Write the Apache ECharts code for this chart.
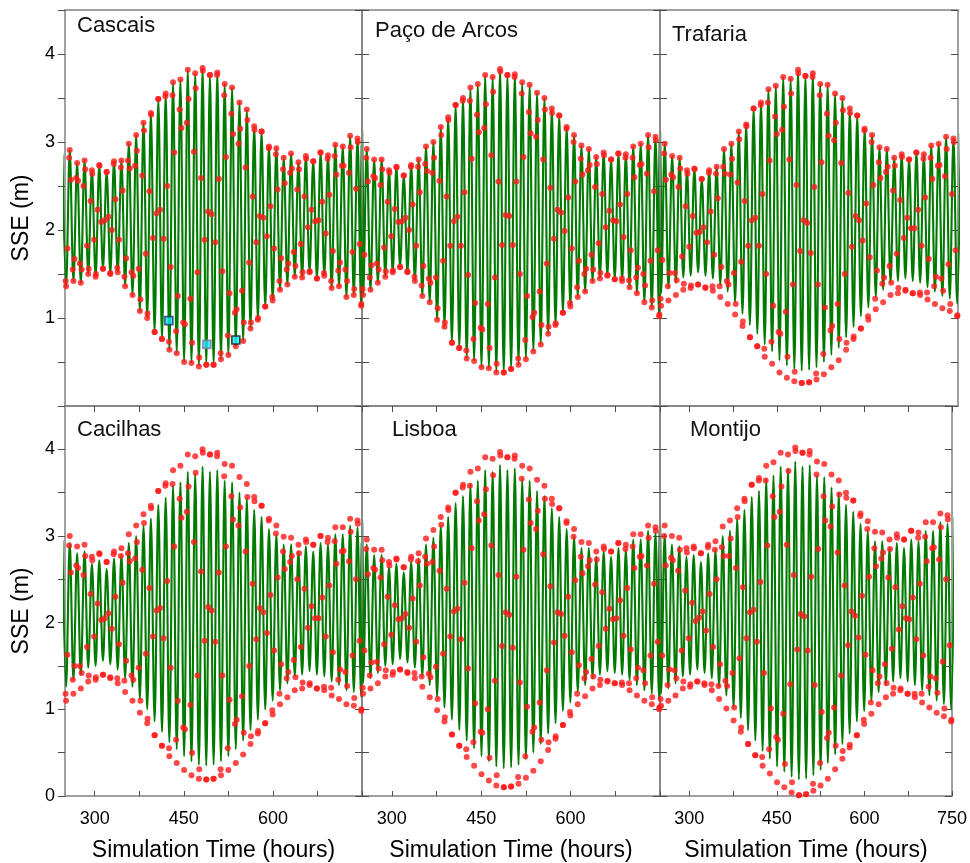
<!DOCTYPE html>
<html>
<head>
<meta charset="utf-8">
<script src="https://cdn.jsdelivr.net/npm/echarts@6/dist/echarts.min.js"></script>
<style>
  html, body { margin: 0; padding: 0; background: #ffffff; }
  #chart { width: 970px; height: 863px; }
</style>
</head>
<body>
<div id="chart"></div>
<script>
// ---- Simulation time of high / low waters (hours) ----
const highWaterHours = [245.6, 258.0, 270.4, 282.9, 295.3, 307.7, 320.1, 332.5, 345.0, 357.4,
  369.8, 382.2, 394.6, 407.1, 419.5, 431.9, 444.3, 456.7, 469.2, 481.6,
  494.0, 506.4, 518.8, 531.3, 543.7, 556.1, 568.5, 580.9, 593.4, 605.8,
  618.2, 630.6, 643.0, 655.5, 667.9, 680.3, 692.7, 705.1, 717.6, 730.0,
  742.4, 754.8];
const lowWaterHours = [251.8, 264.2, 276.6, 289.1, 301.5, 313.9, 326.3, 338.7, 351.2, 363.6,
  376.0, 388.4, 400.8, 413.3, 425.7, 438.1, 450.5, 462.9, 475.4, 487.8,
  500.2, 512.6, 525.0, 537.5, 549.9, 562.3, 574.7, 587.1, 599.6, 612.0,
  624.4, 636.8, 649.2, 661.7, 674.1, 686.5, 698.9, 711.3, 723.8, 736.2,
  748.6];

// ---- Regular observation times (hours) ----
const obsHours = [251, 254, 257, 260, 263, 266, 269, 272, 275, 278,
  281, 284, 287, 290, 293, 296, 299, 302, 305, 308,
  311, 314, 317, 320, 323, 326, 329, 332, 335, 338,
  341, 344, 347, 350, 353, 356, 359, 362, 365, 368,
  371, 374, 377, 380, 383, 386, 389, 392, 395, 398,
  401, 404, 407, 410, 413, 416, 419, 422, 425, 428,
  431, 434, 437, 440, 443, 446, 449, 452, 455, 458,
  461, 464, 467, 470, 473, 476, 479, 482, 485, 488,
  491, 494, 497, 500, 503, 506, 509, 512, 515, 518,
  521, 524, 527, 530, 533, 536, 539, 542, 545, 548,
  551, 554, 557, 560, 563, 566, 569, 572, 575, 578,
  581, 584, 587, 590, 593, 596, 599, 602, 605, 608,
  611, 614, 617, 620, 623, 626, 629, 632, 635, 638,
  641, 644, 647, 650, 653, 656, 659, 662, 665, 668,
  671, 674, 677, 680, 683, 686, 689, 692, 695, 698,
  701, 704, 707, 710, 713, 716, 719, 722, 725, 728,
  731, 734, 737, 740, 743, 746, 749];

// ======================= Cascais =======================
const cascaisModelHigh = [2.86, 2.91, 2.76, 2.79, 2.68, 2.74, 2.66, 2.78, 2.79, 2.98,
  3.08, 3.22, 3.33, 3.49, 3.55, 3.68, 3.71, 3.82, 3.78, 3.84,
  3.76, 3.79, 3.66, 3.62, 3.45, 3.37, 3.18, 3.12, 2.95, 2.93,
  2.82, 2.87, 2.77, 2.84, 2.78, 2.88, 2.85, 2.97, 2.95, 3.07,
  3.04, 3.14];
const cascaisModelLow = [1.36, 1.42, 1.40, 1.50, 1.47, 1.56, 1.50, 1.52, 1.36, 1.26,
  1.08, 1.00, 0.84, 0.76, 0.64, 0.60, 0.50, 0.49, 0.45, 0.47,
  0.47, 0.53, 0.58, 0.68, 0.74, 0.88, 0.98, 1.13, 1.20, 1.32,
  1.38, 1.47, 1.46, 1.52, 1.45, 1.48, 1.34, 1.36, 1.24, 1.26,
  1.14];
const cascaisObsHigh = [2.86, 2.91, 2.76, 2.79, 2.68, 2.74, 2.66, 2.78, 2.79, 2.98,
  3.08, 3.22, 3.33, 3.49, 3.55, 3.68, 3.71, 3.82, 3.78, 3.84,
  3.76, 3.79, 3.66, 3.62, 3.45, 3.37, 3.18, 3.12, 2.95, 2.93,
  2.82, 2.87, 2.77, 2.84, 2.78, 2.88, 2.85, 2.97, 2.95, 3.07,
  3.04, 3.14];
const cascaisObsLow = [1.36, 1.42, 1.40, 1.50, 1.47, 1.56, 1.50, 1.52, 1.36, 1.26,
  1.08, 1.00, 0.84, 0.76, 0.64, 0.60, 0.50, 0.49, 0.45, 0.47,
  0.47, 0.53, 0.58, 0.68, 0.74, 0.88, 0.98, 1.13, 1.20, 1.32,
  1.38, 1.47, 1.46, 1.52, 1.45, 1.48, 1.34, 1.36, 1.24, 1.26,
  1.14];
const cascaisObs = [1.42, 1.79, 2.82, 2.57, 1.55, 1.67, 2.59, 2.56, 1.62, 1.55,
  2.50, 2.69, 1.82, 1.56, 2.33, 2.64, 1.89, 1.50, 2.23, 2.73,
  2.09, 1.56, 2.11, 2.66, 2.15, 1.51, 2.00, 2.75, 2.35, 1.57,
  1.89, 2.71, 2.45, 1.47, 1.68, 2.79, 2.70, 1.52, 1.48, 2.73,
  2.90, 1.56, 1.21, 2.62, 3.13, 1.73, 1.05, 2.44, 3.31, 1.91,
  0.84, 2.19, 3.49, 2.23, 0.76, 1.90, 3.52, 2.50, 0.73, 1.58,
  3.53, 2.88, 0.85, 1.25, 3.37, 3.16, 0.95, 0.93, 3.22, 3.49,
  1.22, 0.72, 2.89, 3.61, 1.52, 0.55, 2.59, 3.81, 1.89, 0.47,
  2.21, 3.76, 2.18, 0.47, 1.86, 3.76, 2.58, 0.60, 1.53, 3.53,
  2.83, 0.80, 1.28, 3.32, 3.09, 1.06, 1.10, 2.98, 3.15, 1.31,
  0.95, 2.71, 3.25, 1.63, 0.95, 2.38, 3.14, 1.86, 1.00, 2.16,
  3.12, 2.14, 1.13, 1.93, 2.93, 2.27, 1.24, 1.79, 2.86, 2.46,
  1.42, 1.68, 2.69, 2.53, 1.55, 1.62, 2.65, 2.70, 1.75, 1.59,
  2.46, 2.69, 1.84, 1.52, 2.38, 2.81, 2.03, 1.53, 2.23, 2.78,
  2.10, 1.45, 2.11, 2.88, 2.32, 1.51, 1.96, 2.81, 2.40, 1.42,
  1.76, 2.84, 2.63, 1.54, 1.63, 2.73, 2.73, 1.55, 1.42, 2.65,
  2.94, 1.75, 1.33, 2.47, 3.00, 1.84, 1.16];
// highlighted Cascais observations
const cascaisMarkerHours = [424.9, 488.8, 537.6];
const cascaisMarkerLevels = [0.97, 0.70, 0.75];

// ======================= Paço de Arcos =======================
const pacoModelHigh = [2.97, 2.92, 2.80, 2.80, 2.68, 2.72, 2.62, 2.74, 2.80, 2.95,
  3.00, 3.17, 3.28, 3.42, 3.50, 3.62, 3.66, 3.76, 3.74, 3.83,
  3.76, 3.77, 3.68, 3.65, 3.56, 3.50, 3.38, 3.30, 3.17, 3.08,
  2.96, 2.92, 2.83, 2.88, 2.80, 2.87, 2.86, 2.95, 2.98, 3.08,
  3.06, 3.12];
const pacoModelLow = [1.26, 1.32, 1.40, 1.47, 1.52, 1.58, 1.52, 1.42, 1.25, 1.18,
  0.98, 0.90, 0.72, 0.66, 0.54, 0.51, 0.44, 0.43, 0.38, 0.38,
  0.42, 0.47, 0.53, 0.62, 0.70, 0.82, 0.92, 1.06, 1.13, 1.24,
  1.30, 1.42, 1.45, 1.48, 1.44, 1.42, 1.35, 1.28, 1.18, 1.12,
  1.02];
const pacoObsHigh = [2.97, 2.92, 2.80, 2.80, 2.68, 2.72, 2.62, 2.74, 2.80, 2.95,
  3.00, 3.17, 3.28, 3.42, 3.50, 3.62, 3.66, 3.76, 3.74, 3.83,
  3.76, 3.77, 3.68, 3.65, 3.56, 3.50, 3.38, 3.30, 3.17, 3.08,
  2.96, 2.92, 2.83, 2.88, 2.80, 2.87, 2.86, 2.95, 2.98, 3.08,
  3.06, 3.12];
const pacoObsLow = [1.26, 1.32, 1.40, 1.47, 1.52, 1.58, 1.52, 1.42, 1.25, 1.18,
  0.98, 0.90, 0.72, 0.66, 0.54, 0.51, 0.44, 0.43, 0.38, 0.38,
  0.42, 0.47, 0.53, 0.62, 0.70, 0.82, 0.92, 1.06, 1.13, 1.24,
  1.30, 1.42, 1.45, 1.48, 1.44, 1.42, 1.35, 1.28, 1.18, 1.12,
  1.02];
const pacoObs = [1.33, 1.72, 2.82, 2.55, 1.46, 1.60, 2.61, 2.59, 1.62, 1.55,
  2.51, 2.69, 1.80, 1.53, 2.32, 2.65, 1.93, 1.54, 2.24, 2.71,
  2.09, 1.58, 2.10, 2.62, 2.14, 1.53, 2.00, 2.72, 2.29, 1.47,
  1.82, 2.72, 2.43, 1.37, 1.59, 2.75, 2.67, 1.45, 1.40, 2.65,
  2.82, 1.46, 1.11, 2.56, 3.08, 1.65, 0.95, 2.38, 3.25, 1.82,
  0.72, 2.10, 3.42, 2.15, 0.66, 1.82, 3.47, 2.43, 0.63, 1.49,
  3.47, 2.81, 0.76, 1.17, 3.31, 3.11, 0.89, 0.87, 3.16, 3.43,
  1.16, 0.66, 2.85, 3.57, 1.46, 0.48, 2.55, 3.80, 1.83, 0.38,
  2.17, 3.76, 2.16, 0.42, 1.83, 3.74, 2.55, 0.54, 1.50, 3.55,
  2.83, 0.75, 1.25, 3.34, 3.10, 1.01, 1.06, 3.06, 3.25, 1.30,
  0.92, 2.80, 3.37, 1.62, 0.90, 2.48, 3.33, 1.90, 0.94, 2.23,
  3.30, 2.20, 1.06, 1.99, 3.15, 2.37, 1.17, 1.79, 3.00, 2.55,
  1.35, 1.65, 2.81, 2.63, 1.50, 1.56, 2.68, 2.74, 1.72, 1.55,
  2.49, 2.75, 1.85, 1.51, 2.41, 2.85, 2.03, 1.49, 2.22, 2.80,
  2.11, 1.44, 2.10, 2.87, 2.29, 1.45, 1.92, 2.82, 2.41, 1.43,
  1.77, 2.82, 2.60, 1.46, 1.57, 2.74, 2.75, 1.50, 1.37, 2.64,
  2.94, 1.65, 1.20, 2.44, 3.02, 1.77, 1.04];

// ======================= Trafaria =======================
const trafariaModelHigh = [3.02, 2.98, 2.84, 2.82, 2.68, 2.70, 2.58, 2.68, 2.72, 2.92,
  2.98, 3.12, 3.20, 3.38, 3.45, 3.60, 3.64, 3.74, 3.72, 3.82,
  3.75, 3.78, 3.66, 3.65, 3.55, 3.50, 3.38, 3.30, 3.15, 3.08,
  2.94, 2.92, 2.82, 2.86, 2.80, 2.88, 2.86, 2.96, 2.98, 3.06,
  3.04, 3.10];
const trafariaModelLow = [1.28, 1.34, 1.40, 1.46, 1.48, 1.52, 1.48, 1.45, 1.38, 1.30,
  1.18, 1.05, 0.92, 0.82, 0.70, 0.62, 0.52, 0.46, 0.42, 0.40,
  0.41, 0.44, 0.50, 0.58, 0.66, 0.78, 0.90, 1.02, 1.12, 1.24,
  1.32, 1.40, 1.42, 1.45, 1.42, 1.40, 1.35, 1.30, 1.25, 1.22,
  1.16];
const trafariaObsHigh = [3.02, 2.98, 2.84, 2.82, 2.68, 2.70, 2.58, 2.68, 2.72, 2.92,
  2.98, 3.12, 3.20, 3.38, 3.45, 3.60, 3.64, 3.74, 3.72, 3.82,
  3.75, 3.78, 3.66, 3.65, 3.55, 3.50, 3.38, 3.30, 3.15, 3.08,
  2.94, 2.92, 2.82, 2.86, 2.80, 2.88, 2.86, 2.96, 2.98, 3.06,
  3.04, 3.10];
const trafariaObsLow = [1.14, 1.20, 1.26, 1.32, 1.34, 1.38, 1.34, 1.31, 1.24, 1.16,
  1.04, 0.91, 0.78, 0.68, 0.56, 0.48, 0.38, 0.32, 0.28, 0.26,
  0.27, 0.30, 0.36, 0.44, 0.52, 0.64, 0.76, 0.88, 0.98, 1.10,
  1.18, 1.26, 1.28, 1.31, 1.28, 1.26, 1.21, 1.16, 1.11, 1.08,
  1.02];
const trafariaObs = [1.22, 1.66, 2.87, 2.57, 1.36, 1.51, 2.63, 2.60, 1.51, 1.43,
  2.49, 2.70, 1.70, 1.39, 2.27, 2.64, 1.81, 1.37, 2.16, 2.69,
  1.97, 1.38, 1.98, 2.58, 2.03, 1.35, 1.86, 2.65, 2.21, 1.36,
  1.72, 2.64, 2.36, 1.36, 1.58, 2.72, 2.64, 1.42, 1.38, 2.63,
  2.81, 1.51, 1.16, 2.54, 3.03, 1.64, 0.96, 2.33, 3.18, 1.82,
  0.78, 2.11, 3.38, 2.14, 0.68, 1.82, 3.42, 2.41, 0.65, 1.50,
  3.45, 2.79, 0.73, 1.14, 3.29, 3.09, 0.84, 0.82, 3.14, 3.40,
  1.07, 0.56, 2.80, 3.55, 1.38, 0.39, 2.51, 3.78, 1.76, 0.26,
  2.11, 3.75, 2.08, 0.27, 1.74, 3.74, 2.49, 0.37, 1.38, 3.53,
  2.77, 0.59, 1.12, 3.32, 3.07, 0.86, 0.91, 3.02, 3.22, 1.16,
  0.76, 2.76, 3.36, 1.50, 0.72, 2.42, 3.33, 1.81, 0.79, 2.16,
  3.30, 2.11, 0.88, 1.88, 3.13, 2.30, 1.02, 1.69, 3.00, 2.51,
  1.22, 1.54, 2.77, 2.59, 1.39, 1.46, 2.66, 2.72, 1.59, 1.40,
  2.45, 2.73, 1.73, 1.34, 2.34, 2.83, 1.91, 1.32, 2.14, 2.80,
  2.02, 1.28, 2.02, 2.88, 2.23, 1.29, 1.82, 2.81, 2.37, 1.29,
  1.67, 2.82, 2.58, 1.36, 1.47, 2.73, 2.74, 1.45, 1.31, 2.61,
  2.92, 1.61, 1.16, 2.41, 3.00, 1.77, 1.03];

// ======================= Cacilhas =======================
const cacilhasModelHigh = [2.95, 2.92, 2.80, 2.82, 2.68, 2.72, 2.62, 2.74, 2.78, 2.92,
  3.00, 3.12, 3.20, 3.36, 3.44, 3.58, 3.62, 3.74, 3.72, 3.80,
  3.74, 3.76, 3.64, 3.62, 3.50, 3.44, 3.30, 3.22, 3.08, 3.02,
  2.90, 2.90, 2.82, 2.88, 2.82, 2.92, 2.90, 3.02, 3.02, 3.12,
  3.10, 3.18];
const cacilhasModelLow = [1.26, 1.34, 1.40, 1.48, 1.50, 1.56, 1.52, 1.46, 1.36, 1.26,
  1.12, 1.00, 0.86, 0.74, 0.62, 0.54, 0.46, 0.40, 0.36, 0.35,
  0.36, 0.40, 0.46, 0.54, 0.64, 0.76, 0.88, 1.00, 1.10, 1.22,
  1.30, 1.38, 1.40, 1.44, 1.40, 1.38, 1.32, 1.28, 1.22, 1.20,
  1.14];
const cacilhasObsHigh = [3.03, 3.00, 2.88, 2.90, 2.76, 2.80, 2.70, 2.82, 2.86, 3.02,
  3.12, 3.25, 3.35, 3.52, 3.61, 3.76, 3.81, 3.94, 3.92, 4.00,
  3.94, 3.96, 3.83, 3.81, 3.68, 3.60, 3.45, 3.35, 3.20, 3.12,
  2.99, 2.98, 2.90, 2.96, 2.90, 3.00, 2.98, 3.10, 3.10, 3.20,
  3.18, 3.26];
const cacilhasObsLow = [1.10, 1.18, 1.24, 1.32, 1.34, 1.40, 1.36, 1.30, 1.20, 1.10,
  0.96, 0.84, 0.70, 0.58, 0.46, 0.38, 0.30, 0.24, 0.20, 0.19,
  0.20, 0.24, 0.30, 0.38, 0.48, 0.60, 0.72, 0.84, 0.94, 1.06,
  1.14, 1.22, 1.24, 1.28, 1.24, 1.22, 1.16, 1.12, 1.06, 1.04,
  0.98];
const cacilhasObs = [1.18, 1.63, 2.89, 2.58, 1.34, 1.50, 2.66, 2.63, 1.50, 1.42,
  2.55, 2.77, 1.72, 1.39, 2.33, 2.72, 1.84, 1.37, 2.22, 2.79,
  2.03, 1.40, 2.05, 2.70, 2.11, 1.37, 1.93, 2.79, 2.30, 1.36,
  1.75, 2.77, 2.46, 1.33, 1.56, 2.80, 2.71, 1.39, 1.34, 2.74,
  2.93, 1.48, 1.10, 2.61, 3.15, 1.64, 0.89, 2.40, 3.32, 1.84,
  0.70, 2.14, 3.52, 2.17, 0.58, 1.82, 3.58, 2.48, 0.55, 1.48,
  3.60, 2.88, 0.65, 1.10, 3.43, 3.21, 0.79, 0.77, 3.28, 3.57,
  1.05, 0.50, 2.93, 3.73, 1.39, 0.31, 2.59, 3.96, 1.79, 0.19,
  2.18, 3.94, 2.14, 0.20, 1.78, 3.92, 2.58, 0.31, 1.39, 3.69,
  2.88, 0.55, 1.11, 3.46, 3.19, 0.83, 0.88, 3.12, 3.33, 1.15,
  0.73, 2.82, 3.45, 1.50, 0.69, 2.45, 3.40, 1.81, 0.75, 2.17,
  3.35, 2.12, 0.84, 1.88, 3.18, 2.32, 0.99, 1.68, 3.03, 2.52,
  1.18, 1.52, 2.82, 2.62, 1.36, 1.43, 2.70, 2.77, 1.57, 1.37,
  2.50, 2.80, 1.72, 1.31, 2.39, 2.93, 1.94, 1.30, 2.19, 2.90,
  2.05, 1.24, 2.05, 3.00, 2.29, 1.26, 1.84, 2.93, 2.43, 1.25,
  1.66, 2.94, 2.68, 1.34, 1.46, 2.82, 2.83, 1.43, 1.27, 2.71,
  3.05, 1.62, 1.13, 2.50, 3.14, 1.79, 1.00];

// ======================= Lisboa =======================
const lisboaModelHigh = [2.92, 2.90, 2.78, 2.78, 2.64, 2.68, 2.58, 2.70, 2.74, 2.90,
  2.98, 3.12, 3.22, 3.38, 3.46, 3.60, 3.64, 3.76, 3.74, 3.82,
  3.76, 3.78, 3.66, 3.64, 3.52, 3.46, 3.32, 3.22, 3.08, 3.00,
  2.86, 2.86, 2.76, 2.82, 2.76, 2.86, 2.84, 2.96, 2.96, 3.06,
  3.04, 3.12];
const lisboaModelLow = [1.30, 1.36, 1.42, 1.50, 1.52, 1.58, 1.54, 1.48, 1.38, 1.28,
  1.14, 1.02, 0.88, 0.76, 0.64, 0.55, 0.46, 0.40, 0.34, 0.32,
  0.33, 0.36, 0.42, 0.50, 0.60, 0.72, 0.84, 0.98, 1.08, 1.20,
  1.28, 1.36, 1.40, 1.44, 1.42, 1.40, 1.34, 1.28, 1.22, 1.18,
  1.12];
const lisboaObsHigh = [2.98, 2.96, 2.84, 2.84, 2.70, 2.74, 2.64, 2.76, 2.80, 2.97,
  3.07, 3.22, 3.33, 3.50, 3.59, 3.74, 3.78, 3.91, 3.89, 3.97,
  3.91, 3.93, 3.81, 3.78, 3.65, 3.58, 3.43, 3.32, 3.17, 3.08,
  2.93, 2.92, 2.82, 2.88, 2.82, 2.92, 2.90, 3.02, 3.02, 3.12,
  3.10, 3.18];
const lisboaObsLow = [1.18, 1.24, 1.30, 1.38, 1.40, 1.46, 1.42, 1.36, 1.26, 1.14,
  0.99, 0.86, 0.71, 0.58, 0.45, 0.35, 0.25, 0.18, 0.12, 0.10,
  0.11, 0.14, 0.21, 0.29, 0.40, 0.53, 0.66, 0.82, 0.93, 1.06,
  1.15, 1.24, 1.28, 1.32, 1.30, 1.28, 1.22, 1.16, 1.10, 1.06,
  1.00];
const lisboaObs = [1.25, 1.68, 2.85, 2.56, 1.39, 1.54, 2.63, 2.61, 1.55, 1.47,
  2.52, 2.72, 1.75, 1.45, 2.30, 2.66, 1.86, 1.43, 2.20, 2.73,
  2.04, 1.46, 2.05, 2.64, 2.10, 1.43, 1.94, 2.73, 2.28, 1.42,
  1.78, 2.71, 2.43, 1.38, 1.60, 2.76, 2.68, 1.41, 1.37, 2.70,
  2.88, 1.49, 1.12, 2.60, 3.13, 1.64, 0.91, 2.39, 3.30, 1.84,
  0.71, 2.13, 3.50, 2.16, 0.58, 1.81, 3.56, 2.46, 0.54, 1.47,
  3.58, 2.86, 0.62, 1.07, 3.40, 3.18, 0.74, 0.73, 3.25, 3.54,
  1.00, 0.44, 2.89, 3.70, 1.33, 0.24, 2.55, 3.93, 1.73, 0.10,
  2.12, 3.91, 2.09, 0.11, 1.71, 3.89, 2.53, 0.22, 1.31, 3.66,
  2.84, 0.46, 1.03, 3.42, 3.15, 0.74, 0.79, 3.08, 3.29, 1.08,
  0.65, 2.79, 3.43, 1.45, 0.62, 2.42, 3.37, 1.77, 0.69, 2.12,
  3.32, 2.10, 0.82, 1.85, 3.15, 2.30, 0.97, 1.66, 2.99, 2.49,
  1.18, 1.51, 2.76, 2.57, 1.36, 1.43, 2.65, 2.72, 1.58, 1.38,
  2.44, 2.73, 1.73, 1.34, 2.35, 2.85, 1.93, 1.33, 2.16, 2.82,
  2.04, 1.30, 2.05, 2.92, 2.26, 1.31, 1.85, 2.85, 2.40, 1.30,
  1.69, 2.88, 2.63, 1.36, 1.48, 2.76, 2.77, 1.45, 1.30, 2.66,
  2.98, 1.62, 1.14, 2.45, 3.06, 1.78, 1.02];

// ======================= Montijo =======================
const montijoModelHigh = [3.06, 3.02, 2.90, 2.88, 2.76, 2.78, 2.70, 2.80, 2.84, 3.00,
  3.06, 3.20, 3.30, 3.45, 3.52, 3.66, 3.70, 3.80, 3.78, 3.86,
  3.80, 3.82, 3.70, 3.68, 3.56, 3.50, 3.36, 3.28, 3.14, 3.06,
  2.94, 2.94, 2.86, 2.92, 2.86, 2.96, 2.94, 3.06, 3.06, 3.16,
  3.14, 3.22];
const montijoModelLow = [1.18, 1.24, 1.30, 1.38, 1.40, 1.46, 1.42, 1.36, 1.26, 1.16,
  1.02, 0.90, 0.76, 0.64, 0.52, 0.43, 0.34, 0.28, 0.22, 0.19,
  0.20, 0.24, 0.30, 0.38, 0.48, 0.60, 0.72, 0.86, 0.98, 1.10,
  1.20, 1.28, 1.32, 1.36, 1.32, 1.28, 1.22, 1.16, 1.10, 1.06,
  1.00];
const montijoObsHigh = [3.16, 3.12, 3.00, 2.98, 2.86, 2.88, 2.80, 2.90, 2.94, 3.11,
  3.18, 3.32, 3.43, 3.59, 3.67, 3.81, 3.85, 3.96, 3.94, 4.02,
  3.96, 3.98, 3.86, 3.83, 3.71, 3.64, 3.50, 3.41, 3.26, 3.17,
  3.05, 3.04, 2.96, 3.02, 2.96, 3.06, 3.04, 3.16, 3.16, 3.26,
  3.24, 3.32];
const montijoObsLow = [1.04, 1.10, 1.16, 1.24, 1.26, 1.32, 1.28, 1.22, 1.12, 1.01,
  0.87, 0.74, 0.60, 0.47, 0.35, 0.26, 0.16, 0.10, 0.04, 0.01,
  0.02, 0.06, 0.12, 0.20, 0.31, 0.43, 0.56, 0.70, 0.83, 0.95,
  1.06, 1.14, 1.18, 1.22, 1.18, 1.14, 1.08, 1.02, 0.96, 0.92,
  0.86];
const montijoObs = [1.12, 1.62, 3.00, 2.66, 1.28, 1.46, 2.75, 2.72, 1.45, 1.36,
  2.60, 2.84, 1.68, 1.32, 2.37, 2.81, 1.82, 1.29, 2.23, 2.86,
  2.02, 1.32, 2.06, 2.80, 2.13, 1.30, 1.91, 2.87, 2.33, 1.29,
  1.72, 2.84, 2.50, 1.27, 1.52, 2.87, 2.77, 1.33, 1.27, 2.77,
  2.97, 1.42, 1.02, 2.63, 3.22, 1.59, 0.79, 2.41, 3.40, 1.82,
  0.60, 2.12, 3.59, 2.15, 0.47, 1.78, 3.64, 2.47, 0.45, 1.42,
  3.64, 2.89, 0.54, 1.01, 3.46, 3.22, 0.68, 0.65, 3.28, 3.57,
  0.95, 0.37, 2.90, 3.75, 1.29, 0.16, 2.55, 3.98, 1.69, 0.01,
  2.10, 3.96, 2.07, 0.02, 1.68, 3.94, 2.53, 0.14, 1.28, 3.71,
  2.85, 0.38, 0.97, 3.46, 3.18, 0.67, 0.73, 3.11, 3.34, 1.02,
  0.58, 2.81, 3.48, 1.39, 0.52, 2.43, 3.44, 1.74, 0.59, 2.13,
  3.41, 2.08, 0.70, 1.83, 3.23, 2.31, 0.88, 1.63, 3.08, 2.53,
  1.08, 1.45, 2.86, 2.65, 1.30, 1.38, 2.74, 2.81, 1.52, 1.30,
  2.52, 2.85, 1.70, 1.25, 2.41, 2.98, 1.92, 1.24, 2.19, 2.96,
  2.05, 1.18, 2.04, 3.06, 2.29, 1.18, 1.81, 2.98, 2.45, 1.18,
  1.62, 2.99, 2.71, 1.26, 1.38, 2.86, 2.87, 1.36, 1.19, 2.73,
  3.10, 1.55, 1.01, 2.50, 3.19, 1.74, 0.88];

// ---- Axis ticks ----
const timeTicks = [300, 375, 450, 525, 600, 675, 750];
const timeLabelsInner = [300, 450, 600];
const timeLabelsLast = [300, 450, 600, 750];
const levelMin = 0, levelMax = 4.5, levelStep = 0.5;

// Station panels, row by row
const stationNames = ['Cascais', 'Paço de Arcos', 'Trafaria', 'Cacilhas', 'Lisboa', 'Montijo'];
const stationHigh = [cascaisModelHigh, pacoModelHigh, trafariaModelHigh, cacilhasModelHigh, lisboaModelHigh, montijoModelHigh];
const stationLow = [cascaisModelLow, pacoModelLow, trafariaModelLow, cacilhasModelLow, lisboaModelLow, montijoModelLow];
const stationObs = [cascaisObs, pacoObs, trafariaObs, cacilhasObs, lisboaObs, montijoObs];
const stationObsHigh = [cascaisObsHigh, pacoObsHigh, trafariaObsHigh, cacilhasObsHigh, lisboaObsHigh, montijoObsHigh];
const stationObsLow = [cascaisObsLow, pacoObsLow, trafariaObsLow, cacilhasObsLow, lisboaObsLow, montijoObsLow];

// ---- Layout ----
const FONT = '"Liberation Sans", Arial, Helvetica, sans-serif';
const colLeft = [65, 362, 660];
const colWidth = [297, 298, 298];
const rowTop = [10, 406];
const rowHeight = 396;
const titleAt = [[77, 15], [375, 20], [672, 24], [77, 419], [392, 419], [690, 419]];
const frameColor = '#808080';
const tickColor = '#4d4d4d';

// interleave high and low waters into one time-ordered curve
function modelCurve(high, low) {
  const pts = [];
  for (let i = 0; i < high.length; i++) {
    pts.push([highWaterHours[i], high[i]]);
    if (i < low.length) pts.push([lowWaterHours[i], low[i]]);
  }
  return pts;
}
function pairs(xs, ys) {
  return xs.map((x, i) => [x, ys[i]]);
}

const grid = [], xAxis = [], yAxis = [], series = [], title = [];

for (let p = 0; p < 6; p++) {
  const row = Math.floor(p / 3), col = p % 3;
  grid.push({ left: colLeft[col], top: rowTop[row], width: colWidth[col], height: rowHeight, containLabel: false });

  title.push({
    text: stationNames[p], left: titleAt[p][0], top: titleAt[p][1], padding: 0,
    textStyle: { fontFamily: FONT, fontSize: 22, fontWeight: 'normal', color: '#111' }
  });

  const lineStyle = { color: frameColor, width: 1.5 };
  // bottom time axis
  xAxis.push({
    gridIndex: p, type: 'value', position: 'bottom', min: 250, max: 750,
    axisLine: { show: true, onZero: false, lineStyle },
    axisTick: { show: row === 1, inside: true, length: 5, customValues: timeTicks, lineStyle: { color: tickColor, width: 1 } },
    axisLabel: {
      show: row === 1, customValues: col === 2 ? timeLabelsLast : timeLabelsInner,
      fontFamily: FONT, fontSize: 18, color: '#000', margin: 14
    },
    splitLine: { show: false },
    name: row === 1 ? 'Simulation Time (hours)' : '',
    nameLocation: 'middle', nameGap: 43,
    nameTextStyle: { fontFamily: FONT, fontSize: 23, color: '#000' }
  });
  // top time axis (frame)
  xAxis.push({
    gridIndex: p, type: 'value', position: 'top', min: 250, max: 750,
    axisLine: { show: true, onZero: false, lineStyle },
    axisTick: { show: row === 1, inside: true, length: 6, customValues: timeTicks, lineStyle: { color: tickColor, width: 1 } },
    axisLabel: { show: false }, splitLine: { show: false }
  });
  // left level axis
  yAxis.push({
    gridIndex: p, type: 'value', position: 'left', min: levelMin, max: levelMax, interval: levelStep,
    axisLine: { show: true, onZero: false, lineStyle },
    axisTick: { show: true, inside: col !== 0, length: 7, lineStyle: { color: tickColor, width: 1 } },
    axisLabel: {
      show: col === 0, fontFamily: FONT, fontSize: 18, color: '#000', margin: 10,
      formatter: v => (Math.abs(v - Math.round(v)) < 1e-6 && !(row === 0 && v === 0)) ? String(Math.round(v)) : ''
    },
    splitLine: { show: false },
    name: col === 0 ? 'SSE (m)' : '',
    nameLocation: 'middle', nameGap: 32,
    nameTextStyle: { fontFamily: FONT, fontSize: 23, color: '#000', padding: [0, 20, 0, 0] }
  });
  // right level axis (frame)
  yAxis.push({
    gridIndex: p, type: 'value', position: 'right', min: levelMin, max: levelMax, interval: levelStep,
    axisLine: { show: true, onZero: false, lineStyle },
    axisTick: { show: true, inside: true, length: 7, lineStyle: { color: tickColor, width: 1 } },
    axisLabel: { show: false }, splitLine: { show: false }
  });

  // simulated level
  series.push({
    type: 'line', name: 'model', xAxisIndex: 2 * p, yAxisIndex: 2 * p,
    data: modelCurve(stationHigh[p], stationLow[p]),
    showSymbol: false, smooth: 0.35, clip: true, silent: true,
    lineStyle: { color: '#007a00', width: 2.1 }, z: 2
  });
  // observed level: regular readings plus observed high and low waters
  series.push({
    type: 'scatter', name: 'observed', xAxisIndex: 2 * p, yAxisIndex: 2 * p,
    data: pairs(obsHours, stationObs[p])
      .concat(pairs(highWaterHours, stationObsHigh[p]))
      .concat(pairs(lowWaterHours, stationObsLow[p])),
    symbol: 'circle', symbolSize: 6, clip: true, silent: true,
    itemStyle: { color: '#ff1a1a' }, z: 3
  });
}

// highlighted observations on the Cascais panel
const markerBorders = ['#1c2f66', '#8c6f9c', '#111111'];
series.push({
  type: 'scatter', name: 'highlight', xAxisIndex: 0, yAxisIndex: 0,
  data: pairs(cascaisMarkerHours, cascaisMarkerLevels).map((d, i) => ({
    value: d, itemStyle: { borderColor: markerBorders[i] }
  })),
  symbol: 'rect', symbolSize: 8, silent: true,
  itemStyle: { color: '#19e6ff', borderWidth: 1.6 }, z: 4
});

const chart = echarts.init(document.getElementById('chart'), null, { renderer: 'canvas' });
chart.setOption({
  backgroundColor: '#ffffff',
  animation: false,
  title, grid, xAxis, yAxis, series
});
</script>
</body>
</html>
